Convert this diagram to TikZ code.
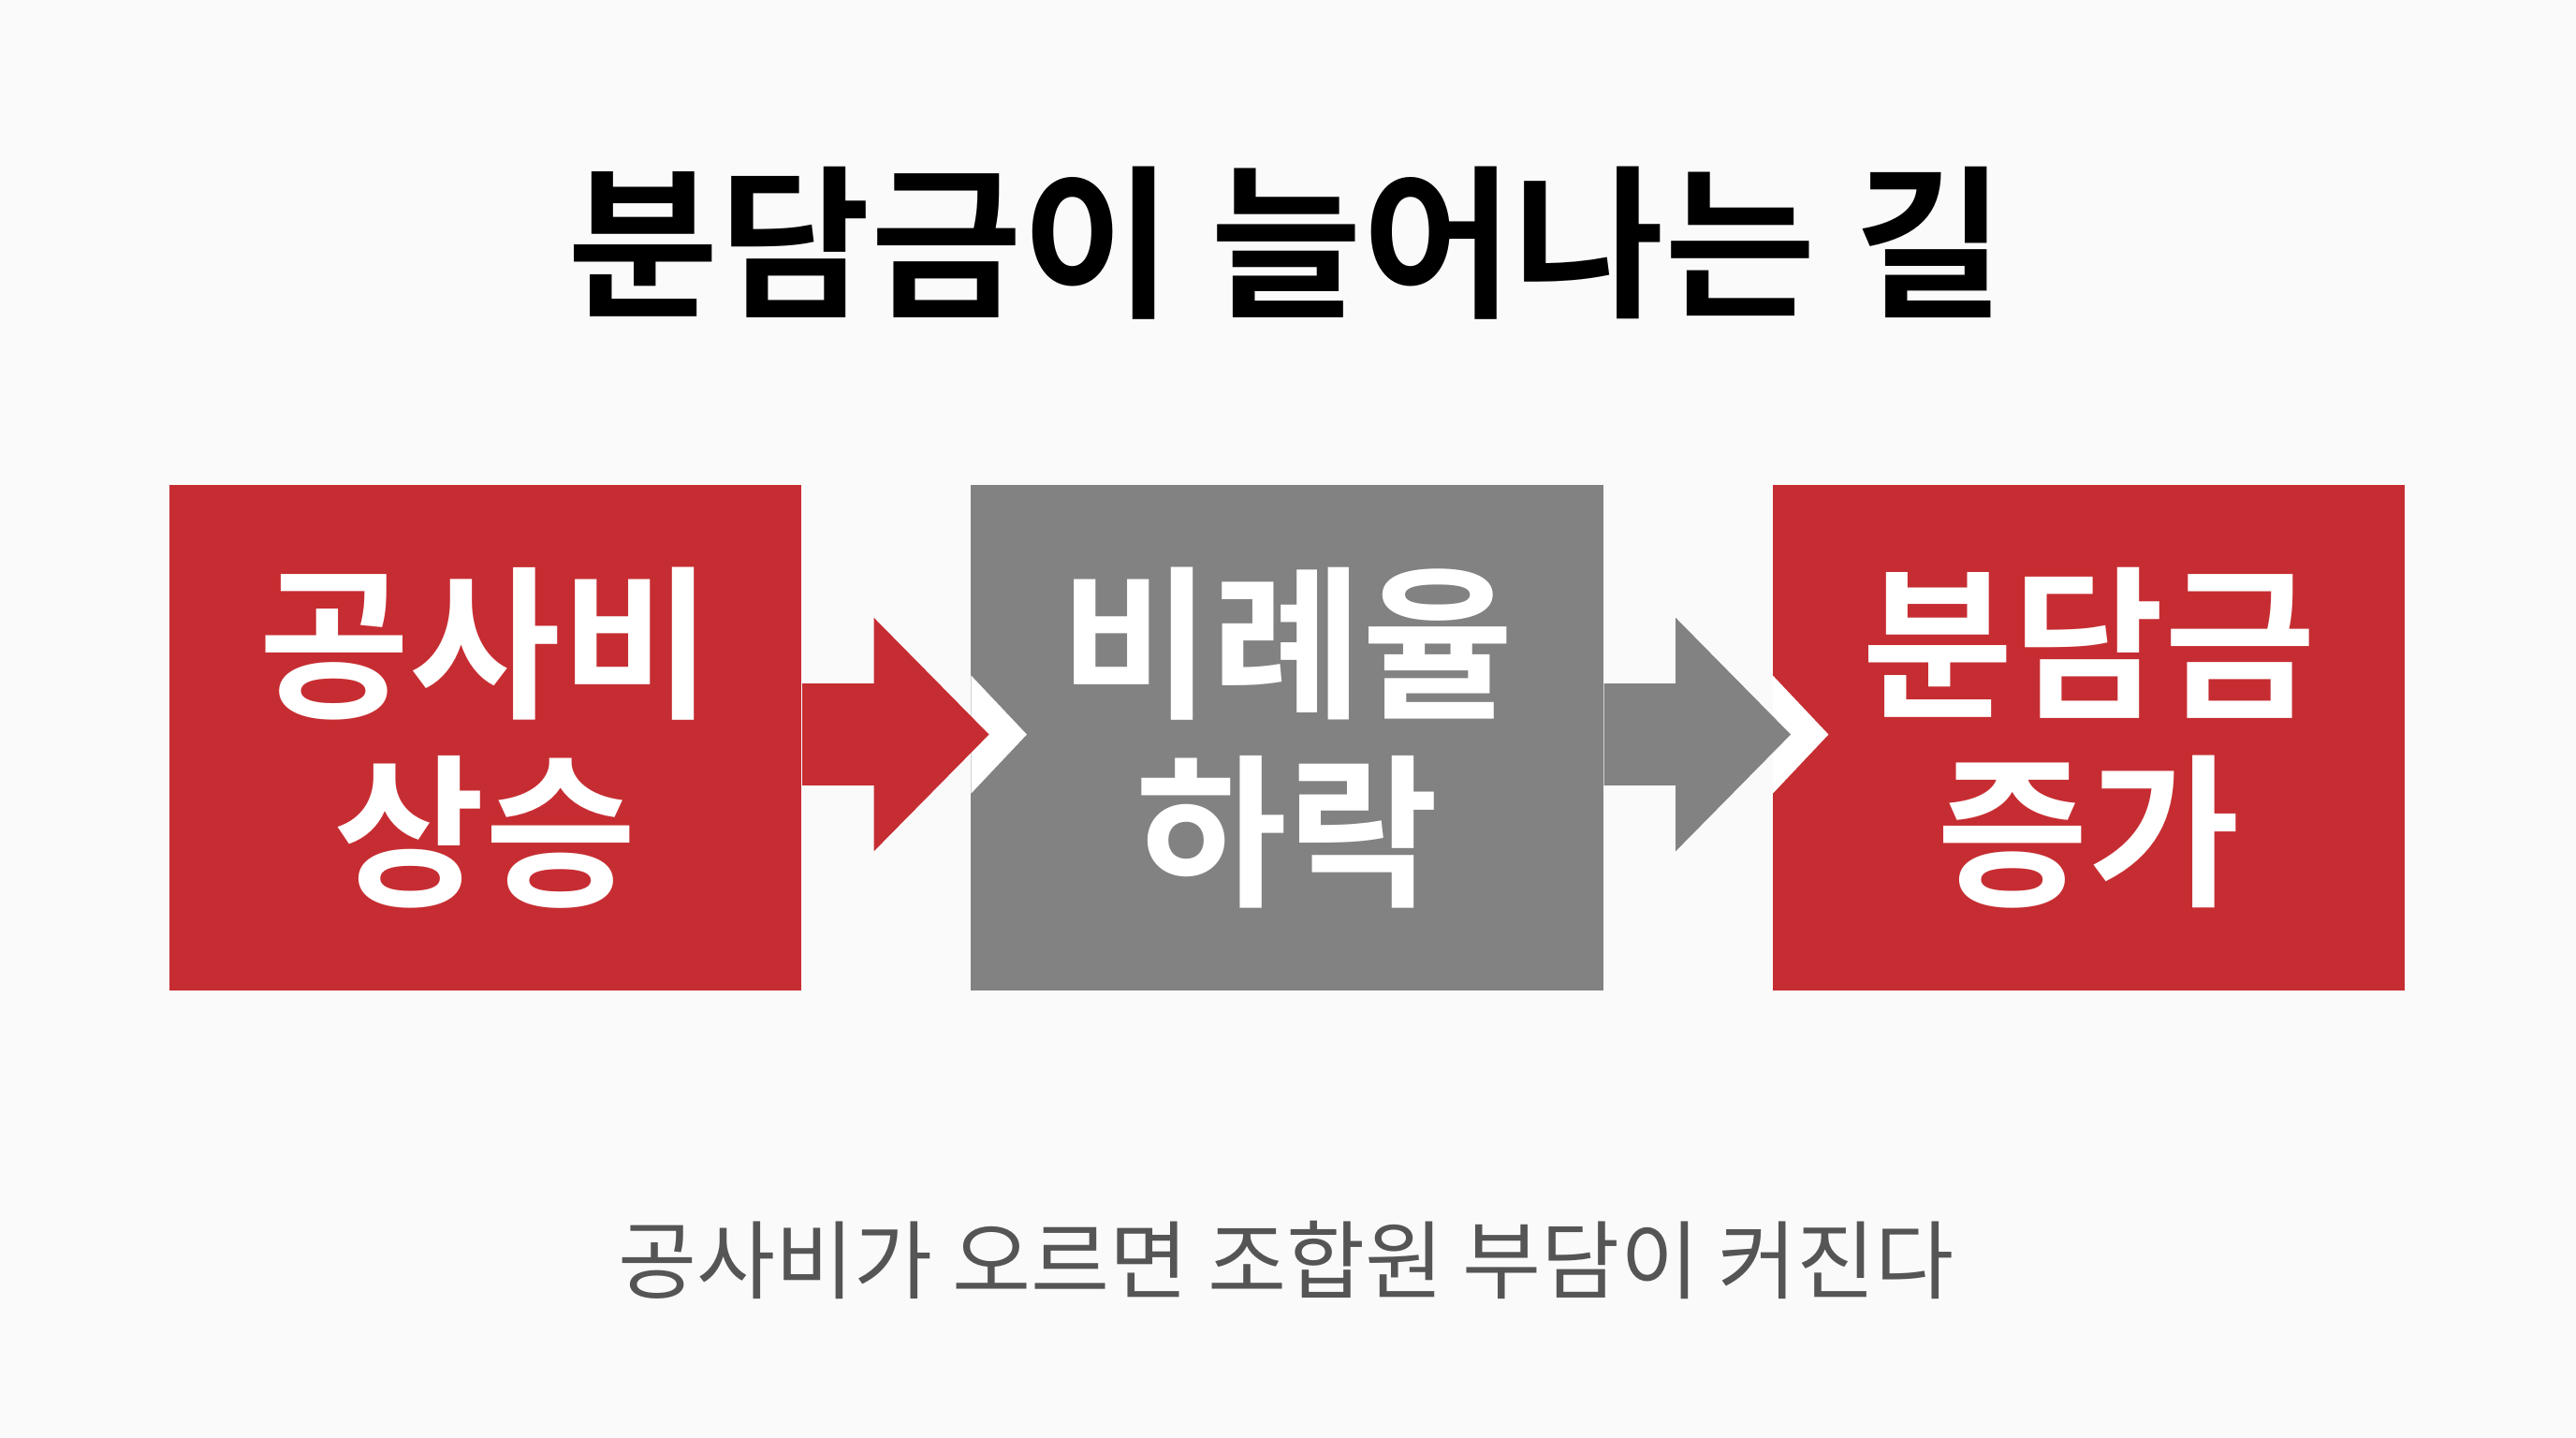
\documentclass[tikz,border=0pt]{standalone}
\usepackage{fontspec}
\newfontfamily\krbold{Noto Sans CJK KR Bold}
\newfontfamily\kr{Noto Sans CJK KR}
\definecolor{stepred}{HTML}{C62D32}
\definecolor{stepgray}{HTML}{828282}
\definecolor{notegray}{HTML}{555555}
\definecolor{paper}{HTML}{FAFAFA}
\tikzset{
  stage/.style={minimum width=385*0.01755cm, minimum height=308*0.01755cm, inner sep=0pt, text=white,
    font=\krbold\fontsize{50}{57}\selectfont, align=center},
  notch/.style={fill=white},
}
\begin{document}
\begin{tikzpicture}[x=0.01755cm,y=-0.01755cm]
    \fill[paper] (0,0) rectangle (1568,875);
    \useasboundingbox (0,0) rectangle (1568,875);

    % title
    \node[font=\krbold\fontsize{50}{57}\selectfont] (title) at (783,148) {분담금이 늘어나는 길};

    % stages
    \node[stage,fill=stepred] (rise) at (295.5,449) {공사비\\상승};
    \node[stage,fill=stepgray] (ratio) at (783.5,449) {비례율\\하락};
    \node[stage,fill=stepred] (share) at (1271.5,449) {분담금\\증가};

    % arrows
    \fill[notch] (591,411) -- (625,447) -- (591,483) -- cycle;
    \fill[stepred] (rise.east|-0,416) -- (532,416) -- (532,376) -- (602,447) -- (532,518) -- (532,478) -- (rise.east|-0,478) -- cycle;
    \fill[notch] (1079,411) -- (1113,447) -- (1079,483) -- cycle;
    \fill[stepgray] (ratio.east|-0,416) -- (1020,416) -- (1020,376) -- (1090,447) -- (1020,518) -- (1020,478) -- (ratio.east|-0,478) -- cycle;

    % note
    \node[font=\kr\fontsize{26}{30}\selectfont, text=notegray] (note) at (783,767) {공사비가 오르면 조합원 부담이 커진다};
\end{tikzpicture}
\end{document}
